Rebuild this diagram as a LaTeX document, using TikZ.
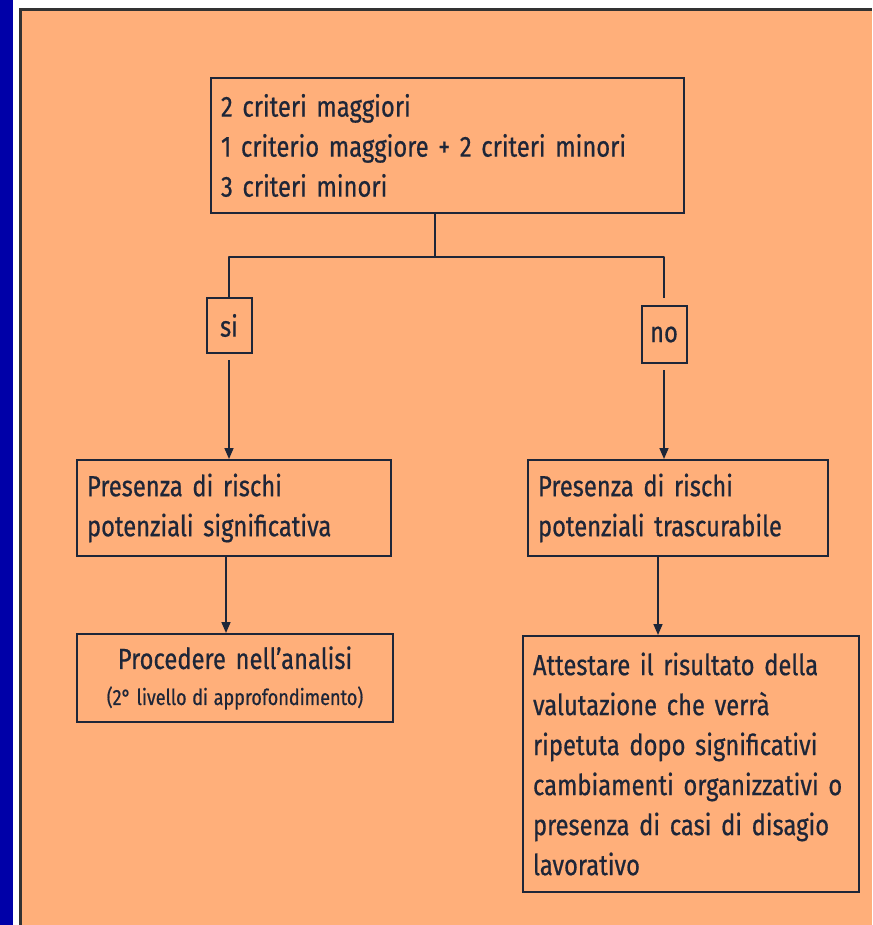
\documentclass[tikz,border=0pt]{standalone}
\usepackage{fontspec}
\setmainfont{Fira Sans}[FakeStretch=0.82,FakeBold=0.6]
\usetikzlibrary{arrows.meta}
\definecolor{panelorange}{RGB}{255,175,122}
\definecolor{slideblue}{RGB}{0,0,168}
\definecolor{panelgray}{RGB}{50,50,50}
\definecolor{ink}{RGB}{30,38,56}

\begin{document}
\begin{tikzpicture}[x=1pt,y=-1pt,
  box/.style={draw=ink,line width=2pt,text=ink,inner xsep=10pt,inner ysep=0pt,
    font=\fontsize{29}{40}\selectfont},
  tag/.style={box,inner xsep=0pt,minimum width=45pt},
  link/.style={draw=ink,line width=2.2pt,line join=round},
  arr/.style={draw=ink,line width=1.6pt,-{Triangle[width=9pt,length=11pt]}}]
%%background and slide frame
\useasboundingbox (0,0) rectangle (872,925);
\fill[white] (0,0) rectangle (872,925);
\fill[slideblue] (0,0) rectangle (13,925);
\fill[panelorange] (20,10) rectangle (872,925);
\draw[panelgray,line width=3pt] (20,925) -- (20,10) -- (872,10);

%%boxes
\node[box,text width=453pt,minimum height=135pt,align=left] (crit) at (447.5,145.5)
  {2 criteri maggiori\\1 criterio maggiore + 2 criteri minori\\3 criteri minori};
\node[tag,minimum height=55pt] (si) at (229,325.5) {si};
\node[tag,minimum height=57pt] (no) at (664,334.5) {no};
\node[box,text width=294pt,minimum height=96pt,align=left] (signif) at (234,508)
  {Presenza di rischi\\potenziali significativa};
\node[box,text width=280pt,minimum height=96pt,align=left] (trasc) at (678,508)
  {Presenza di rischi\\potenziali trascurabile};
\node[box,text width=296pt,minimum height=88pt,align=center] (proc) at (235,678)
  {Procedere nell’analisi\\[-4pt]{\fontsize{22}{30}\selectfont\spaceskip=0pt (2° livello di approfondimento)}};
\node[box,text width=316pt,minimum height=256pt,align=left] (attest) at (691,764)
  {Attestare il risultato della\\valutazione che verrà\\ripetuta dopo significativi\\cambiamenti organizzativi o\\presenza di casi di disagio\\lavorativo};

%%connectors
\coordinate (split) at (435,257);
\draw[link] (crit.south -| split) -- (split);
\draw[link,shorten >=7pt] (si.north) |- (split) -| (no.north);
\draw[arr,shorten <=6pt] (si.south) -- (signif.north -| si.south);
\draw[arr,shorten <=6pt] (no.south) -- (trasc.north -| no.south);
\draw[arr] (signif.south -| 226,0) -- (proc.north -| 226,0);
\draw[arr] (trasc.south -| 658,0) -- (attest.north -| 658,0);
\end{tikzpicture}
\end{document}
